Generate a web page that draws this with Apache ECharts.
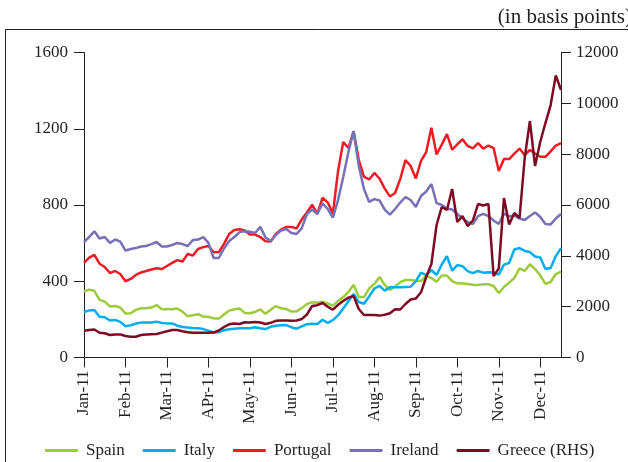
<!DOCTYPE html>
<html>
<head>
<meta charset="utf-8">
<script src="https://cdn.jsdelivr.net/npm/echarts@6/dist/echarts.min.js"></script>
<style>
  html, body { margin: 0; padding: 0; background: #ffffff; }
  #chart { width: 628px; height: 462px; }
</style>
</head>
<body>
<div id="chart"></div>
<script>
// Month tick labels (8 samples per month, series end mid-December)
const monthLabels = ['Jan-11','Feb-11','Mar-11','APr-11','May-11','Jun-11','Jul-11','Aug-11','Sep-11','Oct-11','Nov-11','Dec-11'];
const stepsPerMonth = [8,8,8,8,8,8,8,8,8,8,8,5];

// Spreads (basis points), left axis
const spain = [346,356,350,302,293,268,270,262,231,232,
  250,258,258,262,275,253,253,253,257,241,
  216,222,227,214,214,205,204,226,246,253,
  257,234,232,239,252,230,250,270,258,255,
  241,242,259,281,290,287,293,284,272,297,
  317,344,382,318,317,362,386,422,381,354,
  374,395,407,407,403,401,428,417,397,430,
  430,401,389,388,386,382,380,384,384,375,
  338,370,393,417,468,454,489,464,430,386,
  396,438,451];
const italy = [239,247,249,214,211,194,197,187,164,169,
  178,183,183,184,188,181,179,179,167,160,
  157,155,154,149,141,132,133,143,148,151,
  153,153,153,159,153,149,161,167,169,170,
  159,151,163,175,177,176,198,182,196,221,
  257,295,333,291,282,320,362,376,351,368,
  368,369,370,371,401,445,432,459,433,488,
  532,456,485,479,453,443,454,445,447,446,
  435,487,496,567,574,559,553,530,525,464,
  470,532,574];
const portugal = [496,524,538,492,475,443,454,438,400,412,
  433,446,454,462,468,464,480,496,511,504,
  543,535,569,579,585,553,552,596,648,669,
  673,666,645,645,632,610,608,648,671,685,
  685,677,724,761,802,753,838,814,755,978,
  1130,1099,1186,1036,948,934,968,939,886,845,
  863,937,1035,1005,939,1031,1078,1205,1065,1117,
  1172,1091,1118,1145,1110,1097,1125,1096,1112,1099,
  978,1041,1041,1070,1096,1061,1089,1070,1053,1053,
  1081,1112,1125];
const ireland = [606,632,662,624,632,601,619,608,561,569,
  574,582,585,595,606,582,582,590,601,595,
  585,616,619,632,601,522,522,572,611,632,
  658,662,660,653,685,630,611,643,666,674,
  653,648,679,753,776,753,808,779,734,826,
  947,1078,1188,1004,884,816,831,824,776,750,
  779,813,842,826,790,847,871,910,810,800,
  782,776,753,729,711,700,742,753,742,719,
  700,755,740,745,729,721,742,761,737,700,
  698,729,753];
// Greece, right-hand axis
const greece = [1054,1082,1102,972,956,885,901,909,846,818,
  818,885,905,917,924,980,1035,1082,1082,1035,
  991,976,976,976,976,980,1062,1200,1306,1341,
  1318,1385,1377,1397,1377,1318,1365,1444,1456,1456,
  1444,1456,1515,1692,2026,2058,2144,2002,1880,2073,
  2223,2357,2420,1908,1672,1672,1672,1648,1680,1739,
  1896,1888,2105,2282,2321,2565,3167,3678,5212,5921,
  5803,6629,5331,5567,5173,5390,6039,5980,6039,3200,
  3500,6275,5232,5685,5488,7848,9304,7534,8490,9225,
  9933,11100,10524];

const categories = [];
monthLabels.forEach((m, mi) => {
  for (let k = 0; k < stepsPerMonth[mi]; k++) categories.push(k === 0 ? m : m + '#' + k);
});

const FONT = 'Liberation Serif';
const INK = '#231f20';

const chart = echarts.init(document.getElementById('chart'), null, { renderer: 'canvas' });

function mk(name, data, color, axis) {
  return {
    name: name, type: 'line', data: data, yAxisIndex: axis,
    showSymbol: false, symbol: 'none', smooth: false,
    lineStyle: { color: color, width: 2.5 },
    itemStyle: { color: color },
    emphasis: { disabled: true }
  };
}

chart.setOption({
  animation: false,
  backgroundColor: '#ffffff',
  grid: { left: 84, right: 67, top: 52.5, bottom: 104.5, containLabel: false },
  legend: {
    left: 40, top: 437,
    itemWidth: 33, itemHeight: 3, itemGap: 18,
    icon: 'roundRect',
    textStyle: { fontFamily: FONT, fontSize: 17, color: INK, padding: [0, 0, 0, 3] },
    data: ['Spain', 'Italy', 'Portugal', 'Ireland', 'Greece (RHS)']
  },
  xAxis: {
    type: 'category', boundaryGap: false, data: categories,
    axisLine: { show: true, lineStyle: { color: INK, width: 1 } },
    axisTick: { show: true, length: 10, interval: (i) => i % 8 === 0, lineStyle: { color: INK } },
    axisLabel: {
      interval: (i) => i % 8 === 0, rotate: 90, margin: 13,
      fontFamily: FONT, fontSize: 17, color: INK,
      formatter: (v) => v.indexOf('#') >= 0 ? '' : v
    },
    splitLine: { show: false }
  },
  yAxis: [
    {
      type: 'value', min: 0, max: 1600, interval: 400, position: 'left',
      axisLine: { show: true, lineStyle: { color: INK, width: 1 } },
      axisTick: { show: true, length: 10, lineStyle: { color: INK } },
      axisLabel: { margin: 16, fontFamily: FONT, fontSize: 17, color: INK, formatter: (v) => String(v) },
      splitLine: { show: false }
    },
    {
      type: 'value', min: 0, max: 12000, interval: 2000, position: 'right',
      axisLine: { show: true, lineStyle: { color: INK, width: 1 } },
      axisTick: { show: true, length: 10, lineStyle: { color: INK } },
      axisLabel: { margin: 15, fontFamily: FONT, fontSize: 17, color: INK, formatter: (v) => String(v) },
      splitLine: { show: false }
    }
  ],
  graphic: [
    {
      type: 'rect', silent: true, z: 0,
      shape: { x: 5.5, y: 29.5, width: 700, height: 500 },
      style: { fill: 'none', stroke: INK, lineWidth: 1 }
    },
    {
      type: 'text', silent: true,
      style: { text: '(in basis points)', x: 632, y: 17, align: 'right', verticalAlign: 'middle',
               font: '21px "Liberation Serif"', fill: INK }
    }
  ],
  series: [
    mk('Spain', spain, '#9dcb3c', 0),
    mk('Italy', italy, '#00aeef', 0),
    mk('Portugal', portugal, '#ed1c24', 0),
    mk('Ireland', ireland, '#7771b5', 0),
    mk('Greece (RHS)', greece, '#7d0a22', 1)
  ]
});
</script>
</body>
</html>
